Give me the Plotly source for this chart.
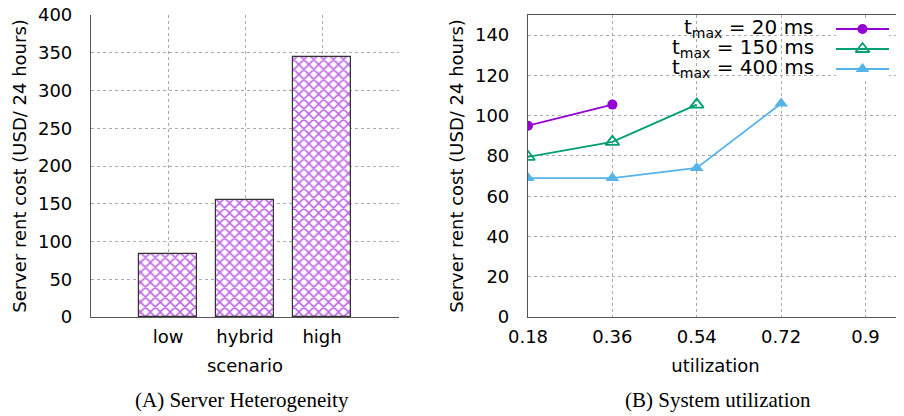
import plotly.graph_objects as go

# ---- data ----
scenarios = ["low", "hybrid", "high"]
scenario_cost = [83, 155, 345]

util_ticks = [0.18, 0.36, 0.54, 0.72, 0.9]
util_tick_labels = ["0.18", "0.36", "0.54", "0.72", "0.9"]

util_20 = [0.18, 0.36]
cost_20 = [95, 105.5]
util_150 = [0.18, 0.36, 0.54]
cost_150 = [79.5, 87, 105.5]
util_400 = [0.18, 0.36, 0.54, 0.72]
cost_400 = [69, 69, 74, 106]

series_names = ["t<sub>max</sub> = 20 ms", "t<sub>max</sub> = 150 ms", "t<sub>max</sub> = 400 ms"]

# page body has an 8px margin; the figure fills the rest of the 904x416 window
OFF = 8
W, H = 904 - OFF, 416 - OFF
PURPLE = "#9400D3"
GREEN = "#009E73"
BLUE = "#56B4E9"
AXC = "#555555"
FONT = "DejaVu Sans"
FS = 18

def px(x):
    return (x - OFF) / W

def py(y):
    return 1 - (y - OFF) / H

fig = go.Figure()

# Left panel: bars at positions 1..3
fig.add_trace(go.Bar(
    x=[1, 2, 3], y=scenario_cost, width=0.75,
    marker=dict(color="white",
                line=dict(color="#333333", width=1.2),
                pattern=dict(shape="x", fgcolor=PURPLE, bgcolor="white",
                             size=7, solidity=0.4, fgopacity=0.6)),
    xaxis="x", yaxis="y", showlegend=False))

# Right panel lines
styles = [
    (util_20, cost_20, PURPLE, dict(symbol="circle", size=10, color=PURPLE)),
    (util_150, cost_150, GREEN, dict(symbol="triangle-up-open", size=12, color=GREEN, line=dict(width=1.8, color=GREEN))),
    (util_400, cost_400, BLUE, dict(symbol="triangle-up", size=12, color=BLUE)),
]
for (xs, ys, c, mk), name in zip(styles, series_names):
    fig.add_trace(go.Scatter(x=xs, y=ys, mode="lines+markers", name=name,
                             line=dict(color=c, width=1.8), marker=mk,
                             xaxis="x2", yaxis="y2", showlegend=False))

# Legend samples (overlay axis)
for i, ((xs, ys, c, mk), name) in enumerate(zip(styles, series_names)):
    row = 2.5 - i
    fig.add_trace(go.Scatter(x=[0, 1], y=[row, row], mode="lines",
                             line=dict(color=c, width=1.8),
                             xaxis="x3", yaxis="y3", showlegend=False, hoverinfo="skip"))
    fig.add_trace(go.Scatter(x=[0.5], y=[row], mode="markers", marker=mk,
                             xaxis="x3", yaxis="y3", showlegend=False, hoverinfo="skip"))
    fig.add_annotation(x=px(816), y=py(28 + 20 * i), xref="paper", yref="paper",
                       text=name, showarrow=False, xanchor="right", yanchor="middle",
                       font=dict(family=FONT, size=20, color="black"))

grid = dict(showgrid=True, gridcolor="#aaaaaa", griddash="dot", gridwidth=1)
tickfont = dict(family=FONT, size=FS, color="black")
tfont = dict(family=FONT, size=FS, color="black")
common = dict(showline=True, linecolor=AXC, linewidth=1.2, ticks="", tickfont=tickfont,
              zeroline=False, automargin=False, ticklabeloverflow="allow", **grid)

fig.update_layout(
    width=W, height=H, margin=dict(l=0, r=0, t=0, b=0),
    plot_bgcolor="white", paper_bgcolor="white",
    xaxis=dict(domain=[px(91), px(399)], range=[0, 4], tickvals=[1, 2, 3], ticktext=scenarios,
               ticklabelstandoff=3, title=dict(text="scenario", font=tfont, standoff=13),
               anchor="y", **common),
    yaxis=dict(domain=[py(317), py(15)], range=[0, 400], dtick=50,
               ticklabelstandoff=14, title=dict(text="Server rent cost (USD/ 24 hours)", font=tfont, standoff=6),
               anchor="x", **common),
    xaxis2=dict(domain=[px(528), px(903)], range=[0.18, 0.98], tickvals=util_ticks, ticktext=util_tick_labels,
                mirror=True, ticklabelstandoff=3, title=dict(text="utilization", font=tfont, standoff=13),
                anchor="y2", **common),
    yaxis2=dict(domain=[py(317), py(15)], range=[0, 150], tickvals=[0, 20, 40, 60, 80, 100, 120, 140],
                mirror=True, ticklabelstandoff=14, title=dict(text="Server rent cost (USD/ 24 hours)", font=tfont, standoff=6),
                anchor="x2", **common),
    xaxis3=dict(domain=[px(836), px(889)], range=[0, 1], visible=False, fixedrange=True, anchor="y3"),
    yaxis3=dict(domain=[py(79), py(19)], range=[0, 3], visible=False, fixedrange=True, anchor="x3"),
    bargap=0,
)

# legend box (opaque, hides grid)
fig.add_shape(type="rect", xref="paper", yref="paper", x0=px(664), x1=px(901), y0=py(80), y1=py(17),
              fillcolor="white", line=dict(width=0), layer="between")

# captions
fig.add_annotation(x=px(242), y=py(400), xref="paper", yref="paper", text="(A) Server Heterogeneity",
                   showarrow=False, xanchor="center", yanchor="middle",
                   font=dict(family="Liberation Serif", size=21, color="black"))
fig.add_annotation(x=px(718), y=py(400), xref="paper", yref="paper", text="(B) System utilization",
                   showarrow=False, xanchor="center", yanchor="middle",
                   font=dict(family="Liberation Serif", size=21, color="black"))

fig.write_html("out.html")
